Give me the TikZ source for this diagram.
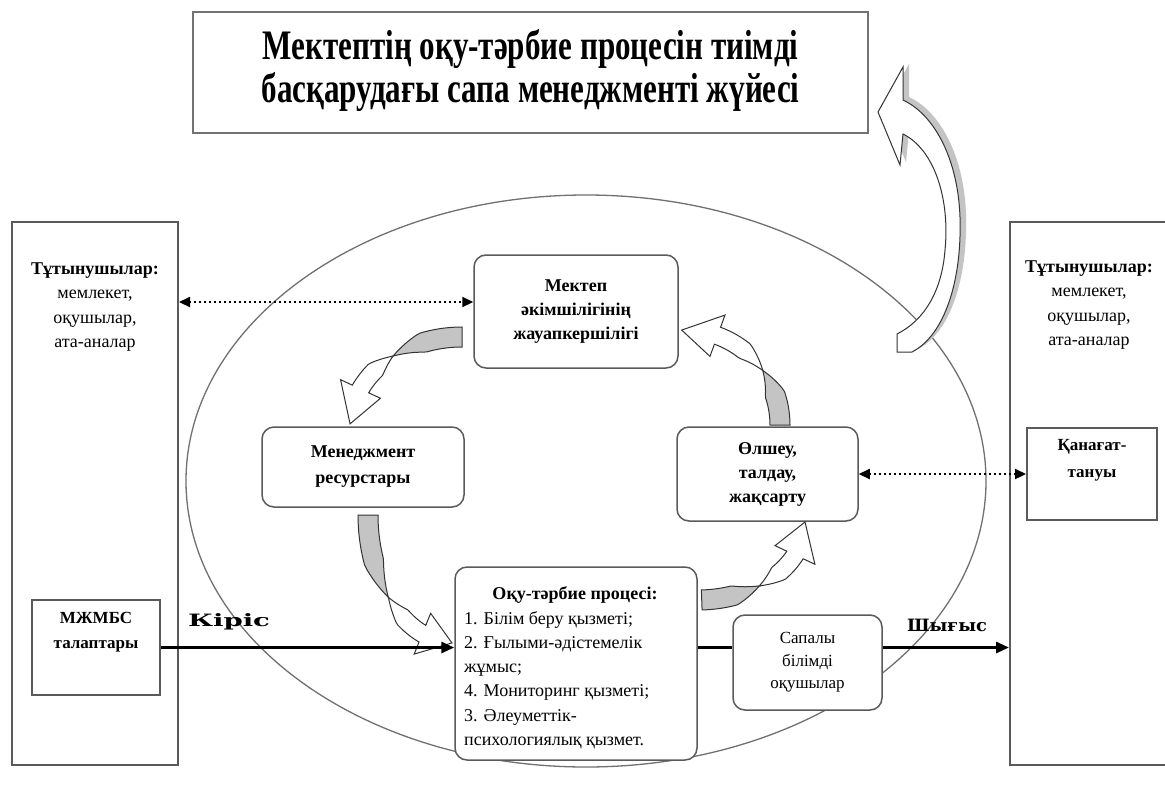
\documentclass[tikz,border=0pt]{standalone}
\usepackage{fontspec}
\setmainfont{Liberation Serif}
\newfontfamily\widefont{DejaVu Serif}
\usepackage{graphicx}
\usetikzlibrary{arrows.meta,shapes.geometric}
\definecolor{bordergray}{HTML}{5A5A5A}
\definecolor{arrowgray}{HTML}{C4C4C4}
\definecolor{ellgray}{HTML}{707070}

% curved "twisted" cycle arrow on an elliptic arc
% #1 cx, #2 cy, #3 rx, #4 ry, #5 tail angle, #6 twist angle, #7 head base angle, #8 tip angle
\newcommand\cycarrow[8]{%
 \filldraw[cycline, fill=arrowgray]
  plot[domain=#5:#6, samples=18] ({#1+(#3+10*min(1,2.2*(\x-(#6))/((#5)-(#6))))*cos(\x)},{#2+(#4+10*min(1,2.2*(\x-(#6))/((#5)-(#6))))*sin(\x)})
  -- plot[domain=#6:#5, samples=18] ({#1+(#3-10*min(1,2.2*(\x-(#6))/((#5)-(#6))))*cos(\x)},{#2+(#4-10*min(1,2.2*(\x-(#6))/((#5)-(#6))))*sin(\x)})
  -- cycle;
 \filldraw[cycline, fill=white]
  plot[domain=#6:#7, samples=18] ({#1+(#3+9*min(1,2.2*(\x-(#6))/((#7)-(#6))))*cos(\x)},{#2+(#4+9*min(1,2.2*(\x-(#6))/((#7)-(#6))))*sin(\x)})
  -- ({#1+(#3+22)*cos(#7)},{#2+(#4+22)*sin(#7)})
  -- ({#1+(#3)*cos(#8)},{#2+(#4)*sin(#8)})
  -- ({#1+(#3-22)*cos(#7)},{#2+(#4-22)*sin(#7)})
  -- plot[domain=#7:#6, samples=18] ({#1+(#3-9*min(1,2.2*(\x-(#6))/((#7)-(#6))))*cos(\x)},{#2+(#4-9*min(1,2.2*(\x-(#6))/((#7)-(#6))))*sin(\x)})
  -- cycle;
}

\begin{document}
\begin{tikzpicture}[x=1pt,y=-1pt,
  rnode/.style={draw=bordergray, line width=1.5pt, rounded corners=12pt, fill=white, align=center,
     font=\fontsize{18}{24}\selectfont\bfseries, inner sep=0pt},
  bigbox/.style={draw=bordergray, line width=2pt, inner sep=0pt},
  smallbox/.style={draw=bordergray, line width=2pt, fill=white, inner sep=0pt},
  titlebox/.style={draw=black!55, line width=1.3pt, fill=white, inner sep=0pt},
  lbl/.style={align=center, inner sep=0pt},
  dotarrow/.style={line width=2.2pt, dash pattern=on 2pt off 3pt,
     {Triangle[length=11pt,width=10pt]}-{Triangle[length=11pt,width=10pt]}},
  flow/.style={line width=3pt},
  flowarrow/.style={line width=3pt, -{Triangle[length=13pt,width=11pt]}},
  cycline/.style={draw=black!80, line width=1pt},
  elline/.style={draw=ellgray, line width=1.3pt}
]
\useasboundingbox (0,0) rectangle (1165,796);
\fill[white] (0,0) rectangle (1165,796);

% outer boxes
\node[bigbox, minimum width=166pt, minimum height=543pt] (lbox) at (95,493.5) {};
\node[bigbox, minimum width=170pt, minimum height=543pt] (rbox) at (1095,493.5) {};

% big ellipse
\node[elline, ellipse, minimum width=800pt, minimum height=572pt, inner sep=0pt] (ell) at (586,481) {};

% title
\node[titlebox, minimum width=675pt, minimum height=121pt] (title) at (530.5,72.5)
  {\resizebox{538pt}{\height}{\fontsize{42}{43}\selectfont\bfseries
   \begin{tabular}{@{}c@{}}Мектептің оқу-тәрбие процесін тиімді\\басқарудағы сапа менеджменті жүйесі\end{tabular}}};

% big curved arrow to the title (shadow + body)
\begin{scope}[shift={(6,-3)}]
\fill[arrowgray] (903,67) -- (878,112) -- (900,165) -- (903,134)
  .. controls (935,150) and (950,200) .. (945,250)
  .. controls (942,290) and (925,320) .. (897,334) -- (897,352) -- (912,352)
  .. controls (945,335) and (962,280) .. (960,217)
  .. controls (958,160) and (935,115) .. (903,100) -- cycle;
\end{scope}
\filldraw[cycline, fill=white] (903,67) -- (878,112) -- (900,165) -- (903,134)
  .. controls (935,150) and (950,200) .. (945,250)
  .. controls (942,290) and (925,320) .. (897,334) -- (897,352) -- (912,352)
  .. controls (945,335) and (962,280) .. (960,217)
  .. controls (958,160) and (935,115) .. (903,100) -- cycle;

% texts of outer boxes
\node[lbl, font=\fontsize{18}{24.5}\selectfont] (ltext) at (95,307)
  {\textbf{Тұтынушылар:}\\мемлекет,\\оқушылар,\\ата-аналар};
\node[lbl, font=\fontsize{18}{24.5}\selectfont] (rtext) at (1089,305)
  {\textbf{Тұтынушылар:}\\мемлекет,\\оқушылар,\\ата-аналар};

% small boxes in outer boxes
\node[smallbox, minimum width=128pt, minimum height=95pt] (mbox) at (96,647.5) {};
\node[lbl, font=\fontsize{17}{25}\selectfont\bfseries] (mtext) at (96,632) {МЖМБС\\талаптары};
\node[smallbox, minimum width=130pt, minimum height=92pt] (qbox) at (1092,474) {};
\node[lbl, font=\fontsize{17}{27}\selectfont\bfseries] (qtext) at (1092,460) {Қанағат-\\тануы};

% cycle nodes
\node[rnode, minimum width=204pt, minimum height=113pt] (tnode) at (576,311.5)
  {Мектеп\\әкімшілігінің\\жауапкершілігі};
\node[rnode, minimum width=202pt, minimum height=80pt, font=\fontsize{18}{26}\selectfont\bfseries] (lnode) at (363,467)
  {Менеджмент\\ресурстары};
\node[rnode, minimum width=181pt, minimum height=94pt] (rnode) at (767.5,474)
  {Өлшеу,\\талдау,\\жақсарту};
\node[rnode, minimum width=242pt, minimum height=193pt] (bnode) at (576,663.5) {};
\node[lbl, font=\fontsize{18}{24}\selectfont\bfseries] (btitle) at (575,595) {Оқу-тәрбие процесі:};
\node[lbl, align=left, anchor=north west, font=\fontsize{18}{24.3}\selectfont] (blist) at (464,611)
  {1. Білім беру қызметі;\\2. Ғылыми-әдістемелік\\жұмыс;\\4. Мониторинг қызметі;\\3. Әлеуметтік-\\психологиялық қызмет.};
\node[rnode, minimum width=149pt, minimum height=95pt, font=\fontsize{17}{22.5}\selectfont] (snode) at (807.5,662.5)
  {Сапалы\\білімді\\оқушылар};

% cycle arrows
\cycarrow{462}{427}{112}{90}{-90}{-128}{-155}{-178}
\cycarrow{455}{515}{87}{128}{180}{140}{112}{92}
\cycarrow{698}{522}{107}{78}{88}{55}{25}{0}
\cycarrow{685}{425}{95}{95}{0}{-35}{-70}{-92}

% dotted connectors
\coordinate (dl) at ([yshift=9.5pt]tnode.west);
\draw[dotarrow] (dl -| lbox.east) -- (dl);
\draw[dotarrow] (rnode.east) -- (qbox.west);

% main flow
\draw[flowarrow] (mbox.east) -- (mbox.east -| bnode.west);
\draw[flow] (mbox.east -| bnode.east) -- (mbox.east -| snode.west);
\draw[flowarrow] (mbox.east -| snode.east) -- (mbox.east -| rbox.west);

\node[lbl] (kiris) at (229,622) {\resizebox{82pt}{\height}{\fontsize{17}{20}\selectfont\widefont\bfseries Кіріс}};
\node[lbl] (shygys) at (947,625) {\resizebox{80pt}{\height}{\fontsize{17}{20}\selectfont\widefont\bfseries Шығыс}};
\end{tikzpicture}
\end{document}
